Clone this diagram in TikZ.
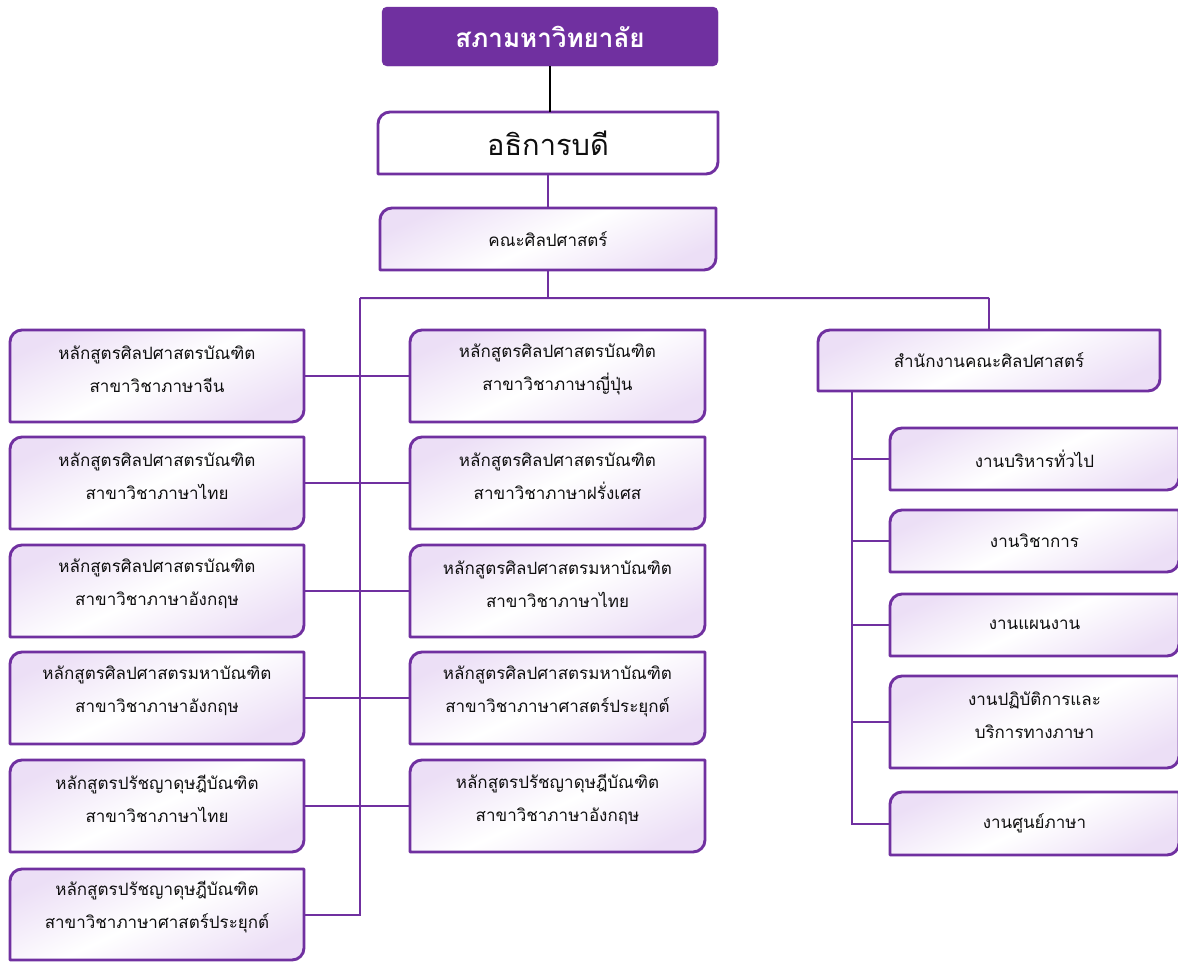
\documentclass[tikz,border=0pt]{standalone}
\usepackage{fontspec}
\newfontfamily\thai[Script=Thai]{Loma}
\definecolor{purp}{RGB}{112,48,160}
\definecolor{lav}{RGB}{236,223,246}
\definecolor{txt}{RGB}{15,15,15}
\tikzset{
  boxline/.style={draw=purp, line width=2.9pt, line join=round},
  lavfill/.style={top color=lav, bottom color=lav, middle color=white, shading angle=25},
  whitefill/.style={fill=white},
  boxtext/.style={inner sep=0pt, align=center, text=txt, font=\thai\fontsize{17}{33}\selectfont},
  two/.style={yshift=7pt},
  conn/.style={draw=purp, line width=2pt},
}
\newcommand\obox[8]{% style, name, L, T, R, B, extra node options, text
  \draw[boxline,#1] (#3,-#6) -- (#3,{-#4-12}) arc[start angle=180,end angle=90,radius=12pt] -- (#5,-#4) -- (#5,{-#6+12}) arc[start angle=0,end angle=-90,radius=12pt] -- cycle;
  \coordinate (#2c) at ({(#3+#5)/2},{-(#4+#6)/2});
  \node[boxtext, minimum width={#5pt-#3pt}, minimum height={#6pt-#4pt}, #7] (#2) at (#2c) {#8};
}
\begin{document}
\begin{tikzpicture}[x=1pt,y=1pt]
\useasboundingbox (0,0) rectangle (1178,-962);
\clip (0,0) rectangle (1178,-962);
\fill[white] (0,0) rectangle (1178,-962);

% top
\node[fill=purp, draw=purp, rounded corners=5pt, minimum width=336pt, minimum height=59pt, inner sep=0pt,
      text=white, font=\thai\bfseries\fontsize{26}{30}\selectfont] (council) at (550,-36.5) {สภามหาวิทยาลัย};

\obox{whitefill}{rector}{378}{112}{718}{174}{font=\thai\fontsize{29}{32}\selectfont}{อธิการบดี}
\obox{lavfill}{faculty}{380}{208}{716}{270}{}{คณะศิลปศาสตร์}

\obox{lavfill}{L1}{10}{330}{304}{422}{two}{หลักสูตรศิลปศาสตรบัณฑิต\\สาขาวิชาภาษาจีน}
\obox{lavfill}{L2}{10}{437}{304}{529}{two}{หลักสูตรศิลปศาสตรบัณฑิต\\สาขาวิชาภาษาไทย}
\obox{lavfill}{L3}{10}{545}{304}{637}{two}{หลักสูตรศิลปศาสตรบัณฑิต\\สาขาวิชาภาษาอังกฤษ}
\obox{lavfill}{L4}{10}{652}{304}{744}{two}{หลักสูตรศิลปศาสตรมหาบัณฑิต\\สาขาวิชาภาษาอังกฤษ}
\obox{lavfill}{L5}{10}{760}{304}{852}{two}{หลักสูตรปรัชญาดุษฎีบัณฑิต\\สาขาวิชาภาษาไทย}
\obox{lavfill}{L6}{10}{869}{304}{960}{two}{หลักสูตรปรัชญาดุษฎีบัณฑิต\\สาขาวิชาภาษาศาสตร์ประยุกต์}

\obox{lavfill}{M1}{410}{330}{705}{422}{two}{หลักสูตรศิลปศาสตรบัณฑิต\\สาขาวิชาภาษาญี่ปุ่น}
\obox{lavfill}{M2}{410}{437}{705}{529}{two}{หลักสูตรศิลปศาสตรบัณฑิต\\สาขาวิชาภาษาฝรั่งเศส}
\obox{lavfill}{M3}{410}{545}{705}{637}{two}{หลักสูตรศิลปศาสตรมหาบัณฑิต\\สาขาวิชาภาษาไทย}
\obox{lavfill}{M4}{410}{652}{705}{744}{two}{หลักสูตรศิลปศาสตรมหาบัณฑิต\\สาขาวิชาภาษาศาสตร์ประยุกต์}
\obox{lavfill}{M5}{410}{760}{705}{852}{two}{หลักสูตรปรัชญาดุษฎีบัณฑิต\\สาขาวิชาภาษาอังกฤษ}

\obox{lavfill}{office}{818}{330}{1160}{391}{}{สำนักงานคณะศิลปศาสตร์}
\obox{lavfill}{R1}{890}{428}{1179}{490}{}{งานบริหารทั่วไป}
\obox{lavfill}{R2}{890}{510}{1179}{572}{}{งานวิชาการ}
\obox{lavfill}{R3}{890}{594}{1179}{656}{}{งานแผนงาน}
\obox{lavfill}{R4}{890}{676}{1179}{768}{two}{งานปฏิบัติการและ\\บริการทางภาษา}
\obox{lavfill}{R5}{890}{792}{1179}{855}{}{งานศูนย์ภาษา}

% junction coordinates
\coordinate (jC) at ([yshift=-28pt]faculty.south);
\coordinate (jL) at (360,-298);
\coordinate (jR) at (office.north |- jC);
\coordinate (oc) at (852,-391);

% connectors
\draw[black, line width=1.2pt] (council.south) -- (council.south |- rector.north);
\draw[conn] (faculty.north |- rector.south) -- (faculty.north);
\draw[conn] (faculty.south) -- (jC);
\draw[conn] (jL) -- (jR);
\draw[conn] (jR) -- (office.north);
\draw[conn] (jL) |- (L6.east |- L6c);
\foreach \k in {1,...,5} \draw[conn] (L\k.east |- L\k c) -- (M\k.west |- M\k c);
\draw[conn] (oc) |- (R5.west);
\foreach \k in {1,...,4} \draw[conn] (oc) |- (R\k.west |- R\k c);
\end{tikzpicture}
\end{document}
